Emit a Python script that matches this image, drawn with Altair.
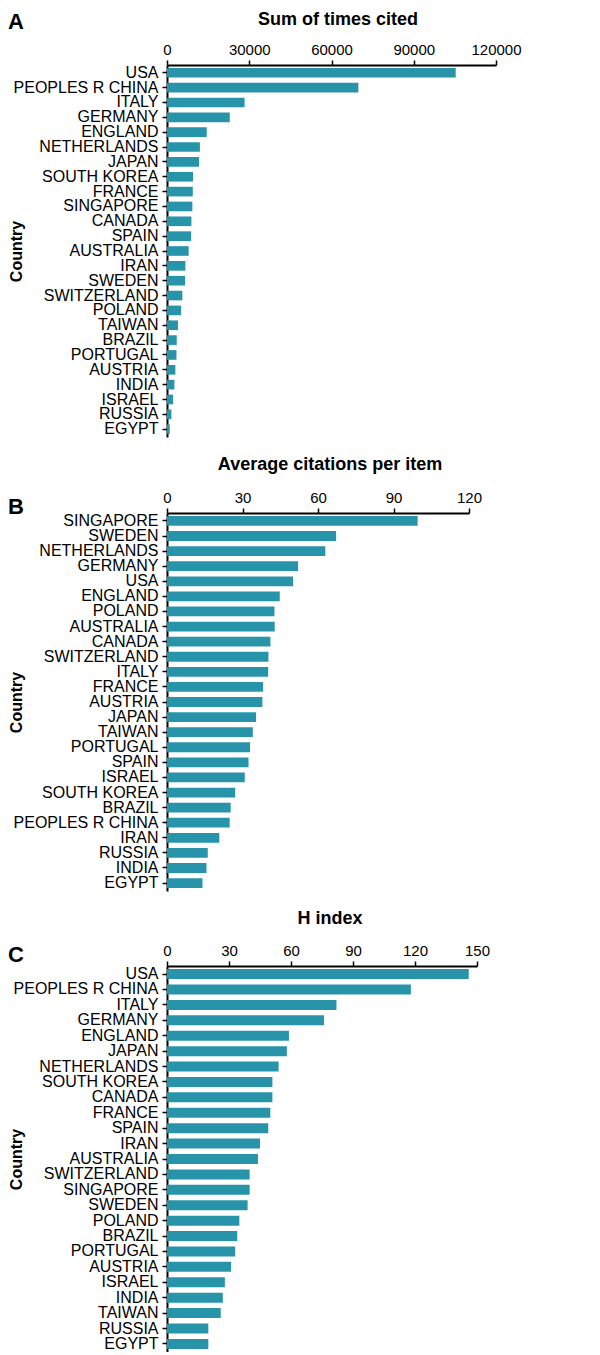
import altair as alt
import pandas as pd

# Panel A: Sum of times cited
a_countries = ["USA", "PEOPLES R CHINA", "ITALY", "GERMANY", "ENGLAND", "NETHERLANDS",
               "JAPAN", "SOUTH KOREA", "FRANCE", "SINGAPORE", "CANADA", "SPAIN",
               "AUSTRALIA", "IRAN", "SWEDEN", "SWITZERLAND", "POLAND", "TAIWAN",
               "BRAZIL", "PORTUGAL", "AUSTRIA", "INDIA", "ISRAEL", "RUSSIA", "EGYPT"]
a_values = [105300, 69800, 28300, 22900, 14500, 12000, 11700, 9500, 9400, 9250, 8900,
            8800, 7900, 6700, 6600, 5600, 5100, 4000, 3550, 3450, 3050, 2700, 2200,
            1600, 1000]

# Panel B: Average citations per item
b_countries = ["SINGAPORE", "SWEDEN", "NETHERLANDS", "GERMANY", "USA", "ENGLAND", "POLAND",
               "AUSTRALIA", "CANADA", "SWITZERLAND", "ITALY", "FRANCE", "AUSTRIA", "JAPAN",
               "TAIWAN", "PORTUGAL", "SPAIN", "ISRAEL", "SOUTH KOREA", "BRAZIL",
               "PEOPLES R CHINA", "IRAN", "RUSSIA", "INDIA", "EGYPT"]
b_values = [99.6, 67.2, 62.9, 52.1, 50.1, 44.8, 42.7, 42.8, 41.1, 40.3, 40.2, 38.2, 37.9,
            35.4, 34.1, 33.0, 32.4, 30.9, 27.1, 25.3, 24.9, 20.8, 16.2, 15.7, 14.1]

# Panel C: H index
c_countries = ["USA", "PEOPLES R CHINA", "ITALY", "GERMANY", "ENGLAND", "JAPAN",
               "NETHERLANDS", "SOUTH KOREA", "CANADA", "FRANCE", "SPAIN", "IRAN",
               "AUSTRALIA", "SWITZERLAND", "SINGAPORE", "SWEDEN", "POLAND", "BRAZIL",
               "PORTUGAL", "AUSTRIA", "ISRAEL", "INDIA", "TAIWAN", "RUSSIA", "EGYPT"]
c_values = [146, 118, 82, 76, 59, 58, 54, 51, 51, 50, 49, 45, 44, 40, 40, 39, 35, 34, 33,
            31, 28, 27, 26, 20, 20]

BAR = "#2894aa"
FONT = "Liberation Sans"


def panel(countries, values, title, letter, xmax, tick_step, width, height,
          title_x, title_y, letter_y):
    df = pd.DataFrame({"Country": countries, "Value": values})
    bars = alt.Chart(df).mark_bar(color=BAR).encode(
        x=alt.X("Value:Q",
                scale=alt.Scale(domain=[0, xmax], nice=False, zero=True),
                axis=alt.Axis(orient="top", title=None,
                              values=list(range(0, xmax + 1, tick_step)),
                              format="d", grid=False,
                              domainColor="black", domainWidth=2,
                              tickColor="black", tickWidth=1.5, tickSize=5,
                              labelFont=FONT, labelFontSize=15, labelColor="black",
                              labelPadding=3, labelFlush=False)),
        y=alt.Y("Country:N", sort=countries,
                scale=alt.Scale(paddingInner=0.35, paddingOuter=0.2),
                axis=alt.Axis(title="Country", grid=False,
                              domainColor="black", domainWidth=2,
                              tickColor="black", tickWidth=1.5, tickSize=5,
                              labelFont=FONT, labelFontSize=16, labelColor="black",
                              labelPadding=4, labelLimit=300,
                              titleFont=FONT, titleFontSize=16, titleFontWeight="bold",
                              titleColor="black", titleAngle=270,
                              titleX=-146, titleY=height / 2,
                              titleAlign="center", titleBaseline="alphabetic")),
    )
    lab = alt.Chart(pd.DataFrame({"t": [letter]})).mark_text(
        font=FONT, fontSize=22, fontWeight="bold", color="black",
        align="left", baseline="alphabetic").encode(
        text="t:N", x=alt.value(-159), y=alt.value(letter_y))
    ttl = alt.Chart(pd.DataFrame({"t": [title]})).mark_text(
        font=FONT, fontSize=18, fontWeight="bold", color="black",
        align="center", baseline="alphabetic").encode(
        text="t:N", x=alt.value(title_x), y=alt.value(title_y))
    return alt.layer(bars, lab, ttl).properties(
        width=width, height=height,
        view=alt.ViewBackground(stroke="transparent", strokeWidth=0))


pa = panel(a_countries, a_values, "Sum of times cited", "A", 120000, 30000, 329, 372,
           171, -40, -36)
pb = panel(b_countries, b_values, "Average citations per item", "B", 120, 30, 302, 378,
           163, -43, 1)
pc = panel(c_countries, c_values, "H index", "C", 150, 30, 310, 386,
           163, -42, -4)

chart = alt.vconcat(pa, pb, pc, spacing=19).properties(
    padding={"top": 3, "left": 0, "right": 0, "bottom": 0}).configure_view(
    stroke="transparent", strokeWidth=0).configure(background="white")

chart.save("out.html", embed_options={"renderer": "svg", "actions": False})
